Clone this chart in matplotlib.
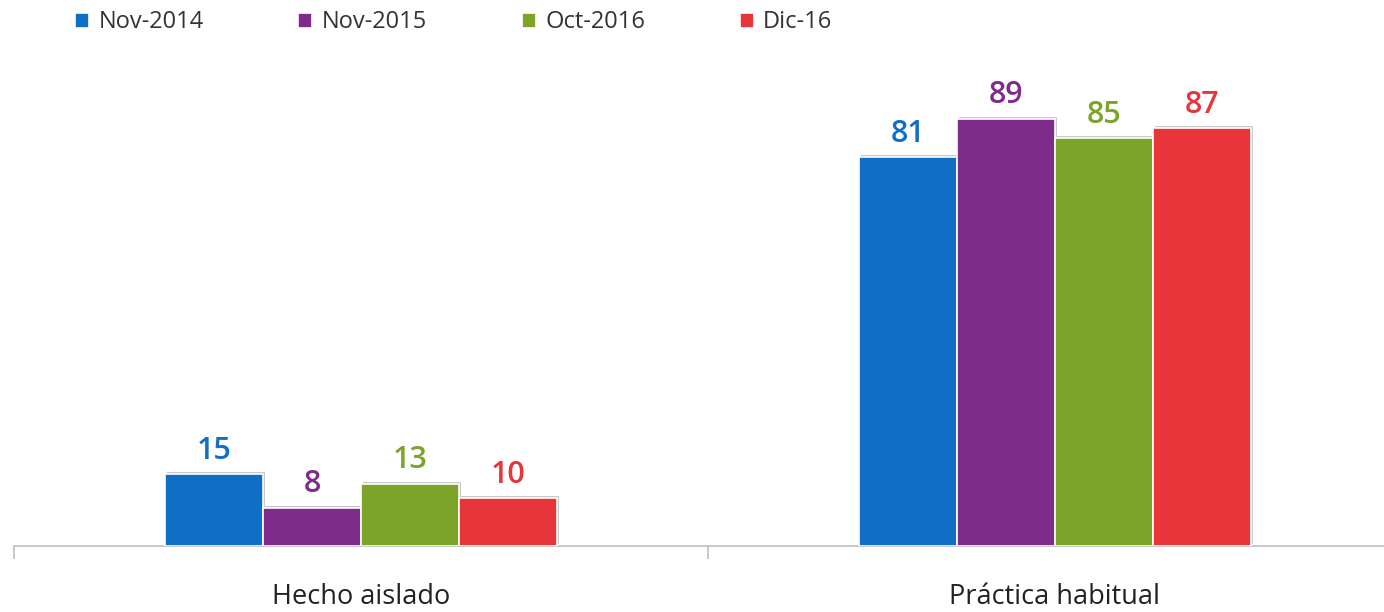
import matplotlib.pyplot as plt
import matplotlib.patheffects as pe
import numpy as np

categories = ['Hecho aislado', 'Práctica habitual']
series = ['Nov-2014', 'Nov-2015', 'Oct-2016', 'Dic-16']
values = {
    'Nov-2014': [15, 81],
    'Nov-2015': [8, 89],
    'Oct-2016': [13, 85],
    'Dic-16': [10, 87],
}
colors = ['#0F6FC6', '#7E2B8C', '#7BA428', '#E8353A']

plt.rcParams['font.family'] = ['Open Sans', 'DejaVu Sans']

fig = plt.figure(figsize=(13.84, 6.12), dpi=100)
# axes runs from x=14px to past the right edge, baseline at y=546px
ax = fig.add_axes([14/1384, 66/612, 1388/1384, 480/612])

x = np.arange(len(categories))
w = 0.141
shadow = [pe.SimplePatchShadow(offset=(1.5, 1.5), shadow_rgbFace='#888888', alpha=0.45), pe.Normal()]
for i, s in enumerate(series):
    pos = x + (i - 1.5) * w
    bars = ax.bar(pos, values[s], width=w, color=colors[i], edgecolor='white',
                  linewidth=1.2, label=s, zorder=3)
    for b in bars:
        b.set_path_effects(shadow)
    for px, v in zip(pos, values[s]):
        ax.annotate(str(v), (px, v), xytext=(0, 6), textcoords='offset points',
                    ha='center', va='bottom', fontsize=22, fontweight='semibold',
                    color=colors[i])

ax.set_xlim(-0.5, 1.5)
ax.set_ylim(0, 100)
for sp in ['left', 'right', 'top']:
    ax.spines[sp].set_visible(False)
ax.spines['bottom'].set_color('#BFBFBF')
ax.spines['bottom'].set_linewidth(1.2)
ax.set_yticks([])
ax.set_xticks(x)
ax.set_xticklabels(categories, fontsize=19.5, color='#222222')
ax.tick_params(axis='x', which='major', length=0, pad=27)
ax.set_xticks([-0.5, 0.5, 1.5], minor=True)
ax.tick_params(axis='x', which='minor', length=9, color='#BFBFBF', width=1.2)

leg = fig.legend(loc='upper left', bbox_to_anchor=(75/1384, 0.983), ncol=4, frameon=False,
                 fontsize=17, handlelength=0.6, handleheight=0.6, handletextpad=0.4,
                 columnspacing=4.0, borderpad=0, borderaxespad=0)
for t in leg.get_texts():
    t.set_color('#333333')
for h in leg.legend_handles:
    h.set_path_effects([])

fig.savefig('out.png', dpi=100)
